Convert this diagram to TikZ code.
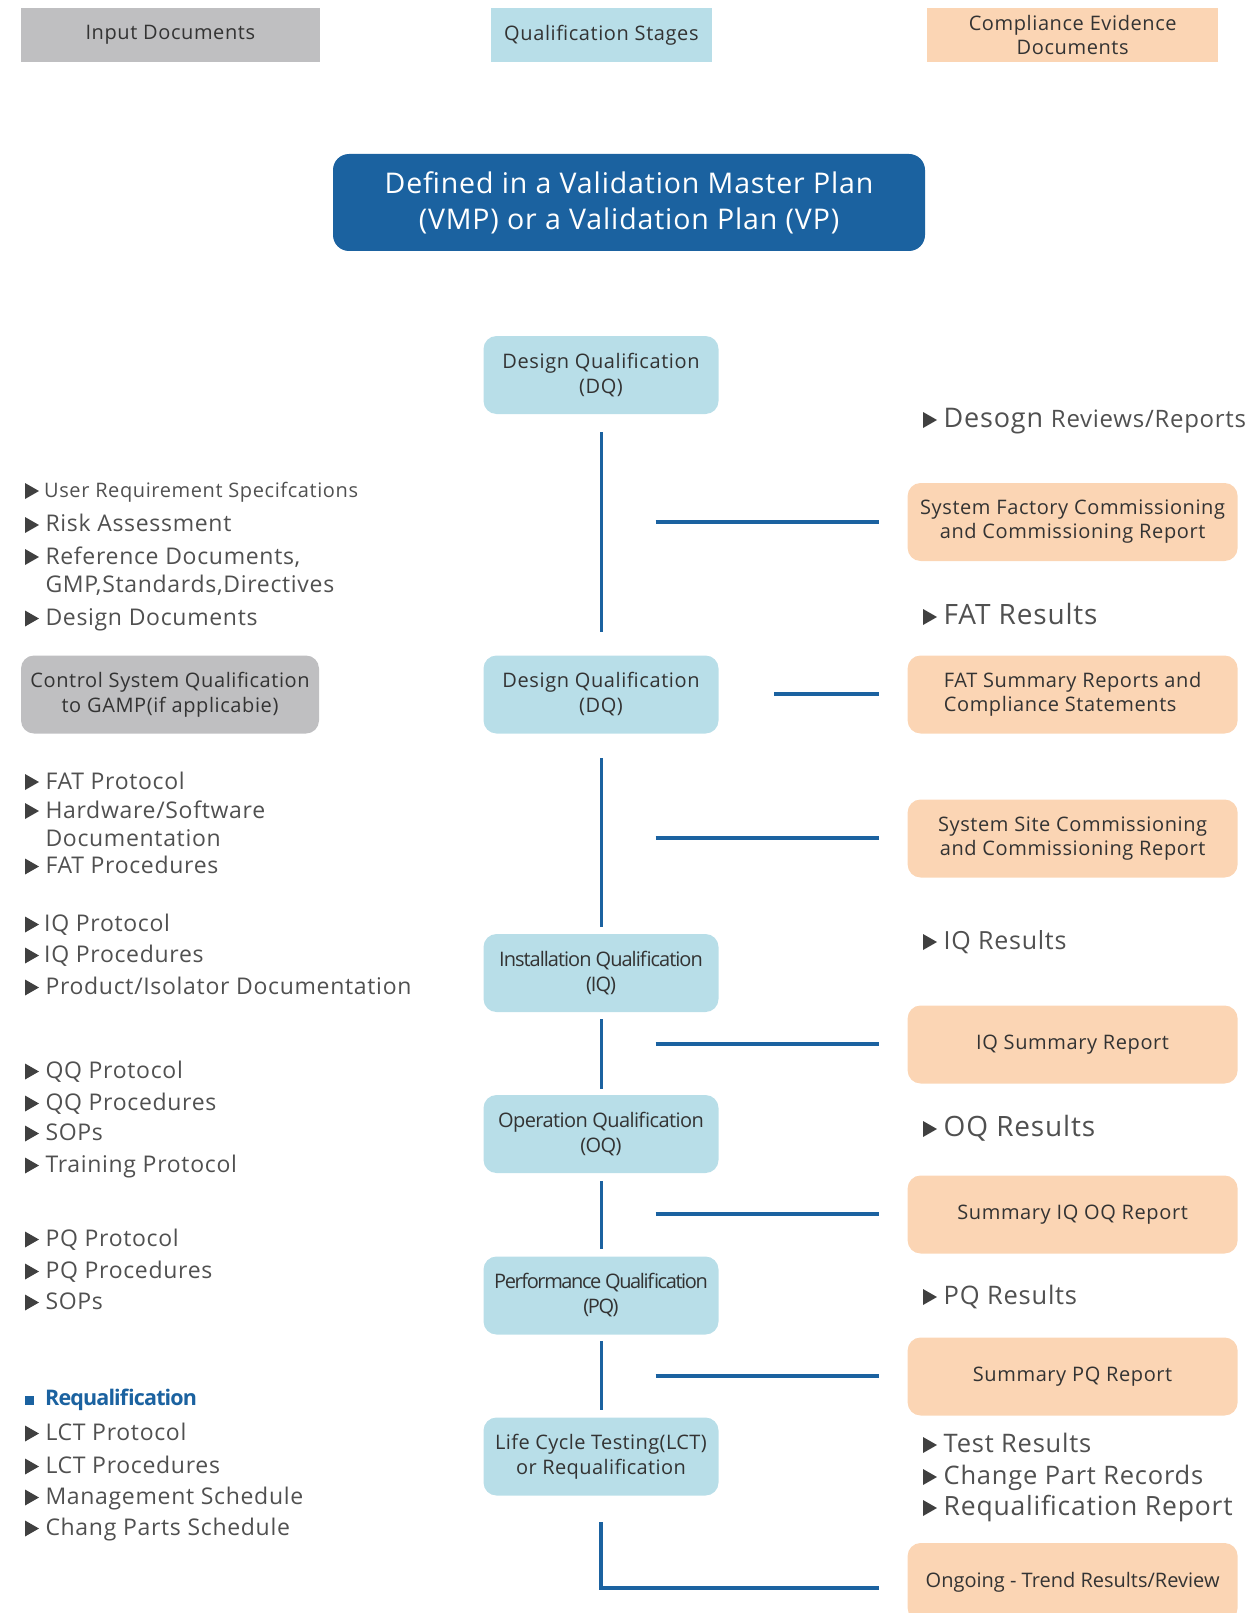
\documentclass[tikz,border=0pt]{standalone}
\usepackage{fontspec}
\setmainfont{Open Sans}[LetterSpace=3]
\definecolor{hgray}{HTML}{BFBFC1}
\definecolor{lblue}{HTML}{B8DEE8}
\definecolor{peach}{HTML}{FBD5B4}
\definecolor{dblue}{HTML}{1B62A0}
\definecolor{txt}{HTML}{333333}
\definecolor{ltxt}{HTML}{505050}
\definecolor{tric}{HTML}{404040}
\newcommand\fsz[2]{\fontsize{#1}{#2}\selectfont}
\newcommand\tri[2]{\fill[tric] (#1,#2) ++(0,-8) -- ++(14,8) -- ++(-14,8) -- cycle;}
\begin{document}
\begin{tikzpicture}[x=1pt,y=-1pt,
  hdr/.style={rectangle, minimum height=54, inner sep=0, text=txt, font=\fsz{20}{24}, align=center},
  stage/.style={rectangle, rounded corners=13, fill=lblue, minimum width=235, minimum height=78, inner sep=0, text=txt, font=\fsz{20}{25}, align=center},
  evid/.style={rectangle, rounded corners=13, fill=peach, minimum width=330, minimum height=78, inner sep=0, text=txt, font=\fsz{20}{24}, align=center},
  lst/.style={anchor=west, inner sep=0, text=ltxt, font=\fsz{23}{27}, text height=16, text depth=5},
  rst/.style={anchor=west, inner sep=0, text=ltxt, font=\fsz{25}{30}, text height=18, text depth=6},
  conn/.style={draw=dblue, line width=3},
  connh/.style={draw=dblue, line width=4}]
\useasboundingbox (0,0) rectangle (1248,1613);
% headers
\node[hdr, fill=hgray, minimum width=299] (h1) at (170.3,35) {Input Documents};
\node[hdr, fill=lblue, minimum width=221] (h2) at (601.4,35) {Qualification Stages};
\node[hdr, fill=peach, minimum width=291] (h3) at (1072.7,35) {Compliance Evidence\\Documents};
% VMP
\node[rectangle, rounded corners=16, fill=dblue, minimum width=592, minimum height=97, inner sep=0, text=white, font=\fsz{28.5}{36}, align=center] (vmp) at (629,202.5) {Defined in a Validation Master Plan\\(VMP) or a Validation Plan (VP)};
% stages
\node[stage] (dq1) at (601,375) {Design Qualification\\(DQ)};
\node[stage] (dq2) at (601,694.5) {Design Qualification\\(DQ)};
\node[stage, font={\fsz{20}{25}\addfontfeature{LetterSpace=-5}}] (iq) at (601,973) {Installation Qualification\\(IQ)};
\node[stage, font={\fsz{20}{25}\addfontfeature{LetterSpace=-3}}] (oq) at (601,1134) {Operation Qualification\\(OQ)};
\node[stage, font={\fsz{20}{25}\addfontfeature{LetterSpace=-7}}] (pq) at (601,1295.5) {Performance Qualification\\(PQ)};
\node[stage, font={\fsz{20}{25}\addfontfeature{LetterSpace=2}}] (lct) at (601,1456.5) {Life Cycle Testing(LCT)\\or Requalification};
% control system
\node[stage, fill=hgray, minimum width=298] (cs) at (170,694.5) {Control System Qualification\\to GAMP(if applicabie)};
% evidence boxes
\node[evid] (e1) at (1072.6,522) {System Factory Commissioning\\and Commissioning Report};
\node[evid, align=left] (e2) at (1072.6,694.5) {FAT Summary Reports and\\Compliance Statements};
\node[evid] (e3) at (1072.6,838.5) {System Site Commissioning\\and Commissioning Report};
\node[evid] (e4) at (1072.6,1044.5) {IQ Summary Report};
\node[evid] (e5) at (1072.6,1214.5) {Summary IQ OQ Report};
\node[evid] (e6) at (1072.6,1376.5) {Summary PQ Report};
\node[evid, font={\fsz{20}{24}\addfontfeature{LetterSpace=0}}] (e7) at (1072.6,1582) {Ongoing - Trend Results/Review};
% connectors
\coordinate (v1a) at (601,432); \coordinate (v1b) at (601,632);
\coordinate (v2a) at (601,758); \coordinate (v2b) at (601,927);
\coordinate (v3a) at (601,1019); \coordinate (v3b) at (601,1089);
\coordinate (v4a) at (601,1181); \coordinate (v4b) at (601,1249);
\coordinate (v5a) at (601,1341); \coordinate (v5b) at (601,1410);
\coordinate (v6a) at (601,1522); \coordinate (v6b) at (601,1588);
\coordinate (h1a) at (655.5,522); \coordinate (h1b) at (879,522);
\coordinate (h2a) at (774,694); \coordinate (h2b) at (879,694);
\coordinate (h3a) at (655.5,838); \coordinate (h3b) at (879,838);
\coordinate (h4a) at (655.5,1044); \coordinate (h4b) at (879,1044);
\coordinate (h5a) at (655.5,1214); \coordinate (h5b) at (879,1214);
\coordinate (h6a) at (655.5,1376); \coordinate (h6b) at (879,1376);
\coordinate (h7b) at (879,1588);
\draw[conn] (v1a) -- (v1b);
\draw[conn] (v2a) -- (v2b);
\draw[conn] (v3a) -- (v3b);
\draw[conn] (v4a) -- (v4b);
\draw[conn] (v5a) -- (v5b);
\draw[connh] (h1a) -- (h1b);
\draw[connh] (h2a) -- (h2b);
\draw[connh] (h3a) -- (h3b);
\draw[connh] (h4a) -- (h4b);
\draw[connh] (h5a) -- (h5b);
\draw[connh] (h6a) -- (h6b);
\draw[connh, line join=miter] (v6a) -- (v6b) -- (h7b);
% left lists
\tri{25}{491}\node[lst, font=\fsz{20}{24}] (l1) at (44,492) {User Requirement Specifcations};
\tri{25}{525}\node[lst] (l2) at (45.3,526) {Risk Assessment};
\tri{25}{557}\node[lst] (l3) at (45.3,558.5) {Reference Documents,};
\node[lst] (l3b) at (45.3,587) {GMP,Standards,Directives};
\tri{25}{618.5}\node[lst] (l4) at (45.3,620) {Design Documents};
\tri{25}{782}\node[lst] (l5) at (45.3,783.5) {FAT Protocol};
\tri{25}{811}\node[lst] (l6) at (45.3,812.5) {Hardware/Software};
\node[lst] (l6b) at (45.3,841) {Documentation};
\tri{25}{866.5}\node[lst] (l7) at (45.3,868) {FAT Procedures};
\tri{25}{924.5}\node[lst] (l8) at (44,926) {IQ Protocol};
\tri{25}{955.5}\node[lst] (l9) at (44,957) {IQ Procedures};
\tri{25}{987.5}\node[lst] (l10) at (45.3,989) {Product/Isolator Documentation};
\tri{25}{1071.5}\node[lst] (l11) at (45.3,1073) {QQ Protocol};
\tri{25}{1103.5}\node[lst] (l12) at (45.3,1105) {QQ Procedures};
\tri{25}{1133.5}\node[lst] (l13) at (45.3,1135) {SOPs};
\tri{25}{1165.5}\node[lst] (l14) at (45.3,1167) {Training Protocol};
\tri{25}{1239.5}\node[lst] (l15) at (45.3,1241) {PQ Protocol};
\tri{25}{1271.5}\node[lst] (l16) at (45.3,1273) {PQ Procedures};
\tri{25}{1302.5}\node[lst] (l17) at (45.3,1304) {SOPs};
\fill[dblue] (25,1396) rectangle (34,1405);
\node[lst, text=dblue, font={\fsz{21.5}{25}\bfseries\addfontfeature{LetterSpace=-4}}] (rq) at (45,1400) {Requalification};
\tri{25}{1433.5}\node[lst] (l18) at (45.3,1435) {LCT Protocol};
\tri{25}{1466.5}\node[lst] (l19) at (45.3,1468) {LCT Procedures};
\tri{25}{1497.5}\node[lst] (l20) at (45.3,1499) {Management Schedule};
\tri{25}{1528.5}\node[lst] (l21) at (45.3,1530) {Chang Parts Schedule};
% right lists
\tri{923}{420}\node[rst, font=\fsz{27}{32}] (r1) at (943.5,421.5) {Desogn {\fsz{24}{28}Reviews/Reports}};
\tri{923}{617}\node[rst, font=\fsz{28}{33}] (r2) at (943.5,618.5) {FAT Results};
\tri{923}{942}\node[rst] (r3) at (943.5,943.5) {IQ Results};
\tri{923}{1129}\node[rst, font=\fsz{28}{33}] (r4) at (943.5,1130.5) {OQ Results};
\tri{923}{1297}\node[rst, font=\fsz{25.5}{30}] (r5) at (943.5,1298.5) {PQ Results};
\tri{923}{1445}\node[rst, font=\fsz{25.5}{30}] (r6) at (943.5,1446.5) {Test Results};
\tri{923}{1477}\node[rst, font=\fsz{25.5}{30}] (r7) at (943.5,1478.5) {Change Part Records};
\tri{923}{1508}\node[rst, font=\fsz{26.5}{31}] (r8) at (943.5,1509.5) {Requalification Report};
\end{tikzpicture}
\end{document}
